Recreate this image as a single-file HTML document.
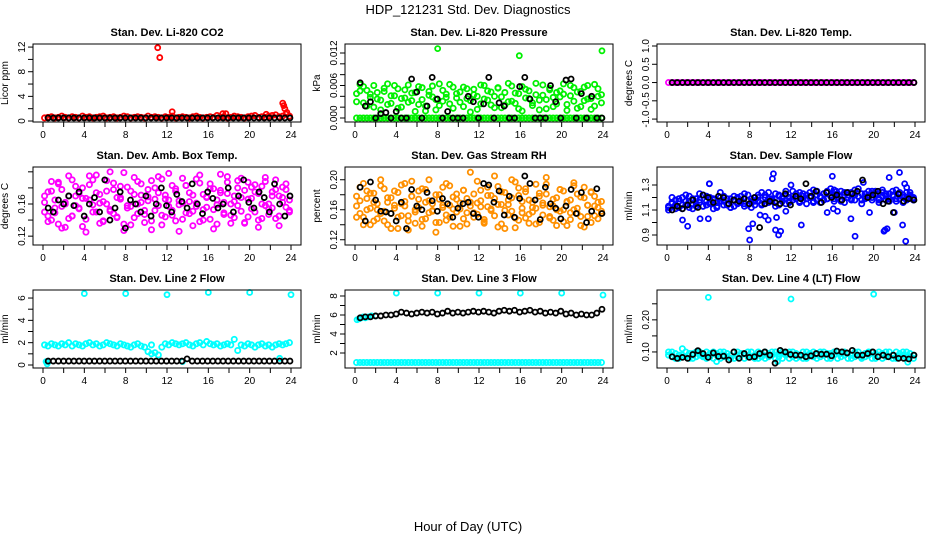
<!DOCTYPE html>
<html><head><meta charset="utf-8"><style>
html,body{margin:0;padding:0;background:#fff}
svg{display:block;font-family:"Liberation Sans",Arial,sans-serif}
</style></head><body>
<svg id="chart" width="936" height="540" viewBox="0 0 936 540" xmlns="http://www.w3.org/2000/svg">
<rect width="936" height="540" fill="#fff"/>
<text x="468" y="14" text-anchor="middle" font-size="13">HDP_121231  Std. Dev. Diagnostics</text>
<text x="468" y="531" text-anchor="middle" font-size="13">Hour of Day (UTC)</text>
</svg>
<script>
// ---- data ----
const co2Band=[0.5,0.6,0.7,0.5,0.6,0.8,0.6,0.5,0.7,0.6,0.5,0.8,0.6,0.7,0.5,0.6,0.7,0.8,0.5,0.6,0.7,0.5,0.6,0.8,0.7,0.5,0.6,0.7,0.6,0.5,0.8,0.6,0.7,0.6,0.5,0.7,0.6,0.8,0.5,0.6,0.7,0.6,0.5,0.7,0.8,0.6,0.5,0.6,0.7,0.6,0.9,0.6,0.7,0.5,0.6,0.8,0.7,0.6,0.5,0.7,0.8,0.9,0.6,0.7,0.6,0.8,0.9,1.0,0.7,0.8,1.1,0.8];
const co2OutX=[11.1,11.3,12.5,17.4,17.7,21.6,23.2,23.3,23.4,23.6];
const co2OutY=[11.9,10.3,1.5,1.2,1.2,1.1,2.9,2.5,2.0,1.4];
const co2Black=[0.5,0.5,0.5,0.5,0.5,0.5,0.5,0.5,0.5,0.5,0.5,0.5,0.5,0.5,0.5,0.5,0.5,0.5,0.5,0.5,0.5,0.5,0.5,0.5,0.5,0.5,0.5,0.5,0.5,0.5,0.5,0.5,0.5,0.5,0.5,0.5,0.5,0.5,0.5,0.5,0.5,0.5,0.5,0.5,0.5,0.5,0.5,0.5];

const presZero=[0,0,0,0,0,0,0,0,0,0,0,0,0,0,0,0,0,0,0,0,0,0,0,0,0,0,0,0,0,0,0,0,0,0,0,0,0,0,0,0,0,0,0,0,0,0,0,0,0,0,0,0,0,0,0,0,0,0,0,0,0,0,0,0,0,0,0,0,0,0,0,0];
const presA=[0.0045,0.0062,0.0028,0.0051,0.0038,0.0020,0.0047,0.0033,0.0055,0.0025,0.0041,0.0060,0.0018,0.0036,0.0052,0.0029,0.0046,0.0012,0.0058,0.0034,0.0022,0.0049,0.0039,0.0015,0.0063,0.0031,0.0044,0.0026,0.0057,0.0037,0.0048,0.0021,0.0054,0.0032,0.0043,0.0016,0.0061,0.0035,0.0050,0.0024,0.0040,0.0056,0.0019,0.0047,0.0030,0.0059,0.0027,0.0045,0.0013,0.0053,0.0036,0.0023,0.0064,0.0033,0.0042,0.0017,0.0055,0.0038,0.0026,0.0050,0.0044,0.0014,0.0060,0.0031,0.0048,0.0021,0.0057,0.0035,0.0016,0.0062,0.0040,0.0028];
const presB=[0.0030,0.0050,0.0058,0.0022,0.0044,0.0060,0.0035,0.0015,0.0049,0.0063,0.0027,0.0041,0.0054,0.0020,0.0037,0.0061,0.0032,0.0047,0.0025,0.0056,0.0013,0.0042,0.0059,0.0034,0.0023,0.0051,0.0038,0.0062,0.0018,0.0045,0.0029,0.0057,0.0036,0.0011,0.0053,0.0040,0.0026,0.0060,0.0033,0.0048,0.0019,0.0055,0.0039,0.0024,0.0064,0.0031,0.0046,0.0017,0.0058,0.0037,0.0050,0.0028,0.0043,0.0015,0.0061,0.0034,0.0052,0.0021,0.0047,0.0039,0.0063,0.0025,0.0041,0.0056,0.0018,0.0049,0.0032,0.0060,0.0036,0.0022,0.0054,0.0043];
const presOutX=[8.0,15.9,23.9];
const presOutY=[0.0128,0.0115,0.0124];
const presBlack=[0.0065,0.0022,0.0030,0,0.0008,0.0010,0,0.0012,0,0,0.0072,0.0048,0,0.0022,0.0075,0.0035,0,0.0012,0,0,0,0.0040,0.0030,0,0.0026,0.0075,0,0.0028,0.0022,0,0,0.0058,0.0075,0.0035,0,0,0,0.0060,0.0030,0,0.0070,0.0072,0,0.0045,0,0.0040,0,0];

const tempBand=[0,0,0,0,0,0,0,0,0,0,0,0,0,0,0,0,0,0,0,0,0,0,0,0,0,0,0,0,0,0,0,0,0,0,0,0,0,0,0,0,0,0,0,0,0,0,0,0,0,0,0,0,0,0,0,0,0,0,0,0,0,0,0,0,0,0,0,0,0,0,0,0];
const tempBlack=[0,0,0,0,0,0,0,0,0,0,0,0,0,0,0,0,0,0,0,0,0,0,0,0,0,0,0,0,0,0,0,0,0,0,0,0,0,0,0,0,0,0,0,0,0,0,0,0];

const ambA=[0.150,0.175,0.140,0.165,0.185,0.130,0.160,0.195,0.145,0.170,0.155,0.180,0.125,0.165,0.190,0.150,0.172,0.138,0.160,0.200,0.148,0.168,0.182,0.135,0.158,0.176,0.143,0.188,0.162,0.152,0.178,0.128,0.166,0.194,0.146,0.171,0.157,0.183,0.139,0.164,0.192,0.149,0.174,0.133,0.161,0.186,0.153,0.169,0.141,0.179,0.159,0.197,0.147,0.173,0.136,0.163,0.189,0.151,0.177,0.144,0.167,0.184,0.131,0.160,0.193,0.154,0.175,0.142,0.170,0.181,0.156,0.165];
const ambB=[0.170,0.145,0.188,0.155,0.135,0.178,0.162,0.142,0.190,0.158,0.173,0.132,0.167,0.184,0.150,0.196,0.161,0.139,0.176,0.153,0.186,0.144,0.168,0.127,0.181,0.157,0.193,0.148,0.171,0.137,0.164,0.189,0.152,0.174,0.134,0.166,0.198,0.146,0.179,0.159,0.141,0.183,0.163,0.151,0.191,0.138,0.172,0.156,0.185,0.129,0.165,0.177,0.149,0.194,0.160,0.143,0.180,0.168,0.136,0.187,0.154,0.175,0.140,0.182,0.158,0.147,0.170,0.190,0.133,0.162,0.178,0.150];
const ambC=[0.162,0.138,0.176,0.149,0.187,0.157,0.131,0.170,0.145,0.182,0.154,0.167,0.141,0.195,0.159,0.174,0.136,0.163,0.189,0.151,0.178,0.143,0.166,0.199,0.155,0.134,0.172,0.160,0.185,0.147,0.169,0.139,0.180,0.158,0.191,0.144,0.165,0.152,0.176,0.126,0.161,0.183,0.148,0.171,0.157,0.196,0.140,0.168,0.179,0.153,0.135,0.174,0.162,0.187,0.146,0.170,0.158,0.192,0.137,0.166,0.181,0.150,0.173,0.142,0.188,0.160,0.155,0.178,0.145,0.168,0.185,0.152];
const ambBlack=[0.155,0.150,0.165,0.160,0.170,0.158,0.175,0.145,0.160,0.168,0.150,0.190,0.140,0.155,0.175,0.130,0.165,0.160,0.150,0.170,0.145,0.160,0.180,0.158,0.150,0.172,0.163,0.155,0.185,0.160,0.148,0.175,0.167,0.155,0.160,0.180,0.150,0.170,0.190,0.162,0.155,0.175,0.168,0.150,0.185,0.160,0.145,0.170];

const rhA=[0.165,0.190,0.150,0.175,0.140,0.182,0.160,0.200,0.145,0.170,0.155,0.185,0.135,0.168,0.195,0.152,0.178,0.142,0.163,0.188,0.148,0.172,0.158,0.130,0.180,0.166,0.146,0.192,0.161,0.174,0.138,0.186,0.156,0.170,0.150,0.198,0.164,0.144,0.179,0.159,0.205,0.167,0.141,0.183,0.153,0.176,0.136,0.189,0.162,0.149,0.173,0.157,0.194,0.143,0.169,0.181,0.151,0.165,0.139,0.187,0.160,0.171,0.147,0.196,0.155,0.177,0.137,0.166,0.184,0.152,0.170,0.158];
const rhB=[0.150,0.172,0.195,0.160,0.182,0.145,0.168,0.155,0.188,0.140,0.176,0.162,0.150,0.193,0.165,0.133,0.178,0.157,0.185,0.147,0.170,0.200,0.159,0.143,0.174,0.190,0.153,0.166,0.138,0.181,0.161,0.148,0.175,0.210,0.156,0.169,0.186,0.142,0.164,0.179,0.152,0.191,0.167,0.135,0.173,0.158,0.197,0.146,0.171,0.184,0.154,0.163,0.141,0.178,0.166,0.203,0.149,0.174,0.160,0.187,0.144,0.170,0.156,0.192,0.162,0.139,0.176,0.151,0.183,0.165,0.148,0.171];
const rhC=[0.178,0.155,0.140,0.185,0.162,0.170,0.148,0.192,0.158,0.176,0.135,0.166,0.183,0.152,0.171,0.145,0.198,0.160,0.174,0.138,0.187,0.156,0.168,0.180,0.143,0.163,0.195,0.150,0.177,0.157,0.169,0.186,0.141,0.165,0.181,0.154,0.172,0.147,0.190,0.161,0.175,0.137,0.184,0.159,0.167,0.200,0.149,0.179,0.156,0.188,0.142,0.170,0.162,0.182,0.153,0.194,0.164,0.146,0.176,0.158,0.185,0.139,0.173,0.160,0.181,0.151,0.190,0.166,0.143,0.178,0.163,0.155];
const rhBlack=[0.190,0.145,0.197,0.173,0.158,0.157,0.155,0.145,0.170,0.135,0.187,0.165,0.160,0.183,0.172,0.158,0.175,0.168,0.150,0.162,0.168,0.170,0.155,0.150,0.195,0.193,0.170,0.185,0.153,0.178,0.150,0.175,0.205,0.195,0.173,0.147,0.190,0.168,0.162,0.148,0.165,0.187,0.155,0.183,0.143,0.158,0.188,0.155];

const flowA=[1.10,1.15,1.18,1.12,1.20,1.14,1.17,1.11,1.19,1.16,1.13,1.21,1.15,1.18,1.12,1.20,1.17,1.14,1.19,1.13,1.16,1.21,1.15,1.18,1.12,1.20,1.17,1.14,1.22,1.16,1.19,1.13,1.21,1.17,1.15,1.20,1.18,1.23,1.16,1.21,1.19,1.24,1.17,1.22,1.20,1.18,1.25,1.21,1.19,1.23,1.17,1.22,1.20,1.24,1.18,1.21,1.23,1.19,1.22,1.20,1.25,1.18,1.21,1.23,1.19,1.22,1.17,1.24,1.20,1.18,1.22,1.20];
const flowB=[1.13,1.20,1.11,1.17,1.14,1.22,1.12,1.19,1.15,1.23,1.13,1.17,1.20,1.11,1.16,1.24,1.14,1.19,1.12,1.21,1.15,1.18,1.13,1.22,1.16,1.14,1.20,1.24,1.15,1.19,1.17,1.23,1.14,1.20,1.22,1.16,1.25,1.19,1.17,1.23,1.15,1.21,1.26,1.18,1.16,1.23,1.19,1.27,1.17,1.20,1.25,1.16,1.24,1.18,1.22,1.27,1.15,1.20,1.25,1.18,1.23,1.16,1.26,1.21,1.17,1.25,1.19,1.22,1.16,1.24,1.21,1.19];
const flowC=[1.12,1.16,1.14,1.19,1.11,1.17,1.21,1.15,1.13,1.18,1.22,1.14,1.16,1.19,1.13,1.17,1.21,1.15,1.12,1.18,1.20,1.16,1.23,1.14,1.19,1.17,1.22,1.15,1.20,1.24,1.18,1.16,1.22,1.19,1.25,1.17,1.21,1.19,1.24,1.18,1.22,1.20,1.16,1.25,1.21,1.23,1.19,1.22,1.26,1.20,1.18,1.24,1.22,1.19,1.26,1.21,1.18,1.23,1.20,1.25,1.22,1.19,1.24,1.18,1.23,1.21,1.26,1.19,1.22,1.20,1.24,1.18];
const flowOutX=[1.5,2.0,3.2,4.0,4.1,7.9,8.0,8.3,9.0,9.5,9.8,10.2,10.3,10.5,10.6,10.8,11.0,11.5,13.0,15.5,16.0,16.5,16.1,17.8,18.2,19.0,19.6,21.0,21.1,21.3,21.5,22.0,22.5,22.8,23.0,23.2,23.1,4.1,12.0,16.4];
const flowOutY=[1.02,0.97,1.03,1.03,1.31,0.95,0.86,0.99,1.06,1.05,1.02,1.35,1.39,0.94,1.04,0.90,0.93,1.09,0.98,1.08,1.37,1.09,1.11,1.03,0.89,1.32,1.08,0.93,0.94,0.95,1.36,1.08,1.40,0.98,1.31,1.28,0.85,1.31,1.30,1.25];
const flowBlack=[1.10,1.13,1.11,1.14,1.18,1.12,1.22,1.20,1.16,1.21,1.20,1.15,1.18,1.17,1.19,1.15,1.20,0.96,1.15,1.17,1.16,1.15,1.23,1.14,1.21,1.19,1.31,1.21,1.25,1.16,1.24,1.20,1.22,1.18,1.24,1.23,1.25,1.34,1.20,1.22,1.25,1.15,1.17,1.08,1.23,1.17,1.19,1.18];

const l2Band=[1.8,1.7,1.9,1.8,1.7,1.9,1.8,2.0,1.7,1.9,1.8,1.7,1.9,2.0,1.8,1.9,1.7,1.8,2.0,1.9,1.8,1.7,1.9,1.8,1.7,1.6,1.8,1.9,1.7,1.6,1.2,1.8,1.1,0.9,1.6,1.9,1.8,2.0,1.9,1.8,1.9,2.0,1.8,1.7,1.9,2.0,1.8,2.1,1.9,1.8,1.9,1.7,1.8,1.9,1.8,2.3,1.3,1.8,1.7,1.9,1.8,1.6,1.8,1.9,1.7,1.8,1.6,1.8,1.9,1.8,1.9,2.0];
const l2OutX=[4,8,12,16,20,24,0.3,0.4,0.5,13.5,22.9,10.5];
const l2OutY=[6.4,6.4,6.3,6.5,6.5,6.3,0.3,0.1,0.3,0.3,0.6,1.0];
const l2Black=[0.35,0.35,0.35,0.35,0.35,0.35,0.35,0.35,0.35,0.35,0.35,0.35,0.35,0.35,0.35,0.35,0.35,0.35,0.35,0.35,0.35,0.35,0.35,0.35,0.35,0.35,0.35,0.55,0.35,0.35,0.35,0.35,0.35,0.35,0.35,0.35,0.35,0.35,0.35,0.35,0.35,0.35,0.35,0.35,0.35,0.35,0.35,0.35];

const l3Band=[1,1,1,1,1,1,1,1,1,1,1,1,1,1,1,1,1,1,1,1,1,1,1,1,1,1,1,1,1,1,1,1,1,1,1,1,1,1,1,1,1,1,1,1,1,1,1,1,1,1,1,1,1,1,1,1,1,1,1,1,1,1,1,1,1,1,1,1,1,1,1,1];
const l3OutX=[0.2,0.4,0.6,0.8,1.0,1.3,1.6,2.0,4,8,12,16,20,24];
const l3OutY=[5.5,5.6,5.7,5.8,5.7,5.8,5.9,5.9,8.3,8.3,8.3,8.3,8.3,8.1];
const l3Black=[5.7,5.8,5.8,5.9,5.9,6.0,6.0,6.1,6.3,6.2,6.1,6.2,6.3,6.2,6.3,6.1,6.2,6.4,6.2,6.3,6.2,6.3,6.4,6.3,6.4,6.3,6.2,6.4,6.5,6.4,6.5,6.3,6.4,6.5,6.3,6.4,6.2,6.3,6.2,6.4,6.1,6.2,6.0,6.1,6.0,6.0,6.2,6.6];

const l4A=[0.09,0.10,0.08,0.09,0.11,0.085,0.095,0.08,0.10,0.09,0.085,0.10,0.095,0.08,0.09,0.10,0.085,0.095,0.09,0.08,0.10,0.09,0.095,0.085,0.10,0.09,0.08,0.095,0.10,0.085,0.09,0.10,0.095,0.08,0.09,0.10,0.085,0.095,0.09,0.08,0.10,0.09,0.085,0.095,0.10,0.09,0.08,0.095,0.09,0.10,0.085,0.09,0.095,0.08,0.10,0.09,0.085,0.095,0.09,0.10,0.08,0.09,0.095,0.085,0.10,0.09,0.08,0.095,0.09,0.10,0.085,0.09];
const l4B=[0.10,0.085,0.095,0.08,0.09,0.10,0.08,0.095,0.085,0.10,0.09,0.08,0.085,0.10,0.095,0.08,0.10,0.085,0.08,0.10,0.085,0.095,0.08,0.10,0.085,0.08,0.10,0.085,0.08,0.095,0.10,0.08,0.085,0.10,0.095,0.08,0.10,0.08,0.085,0.10,0.08,0.095,0.10,0.08,0.085,0.10,0.095,0.08,0.10,0.08,0.095,0.10,0.08,0.09,0.085,0.10,0.08,0.085,0.10,0.08,0.095,0.10,0.08,0.10,0.085,0.08,0.10,0.085,0.10,0.08,0.095,0.08];
const l4OutX=[4.0,12.0,20.0,4.8,23.3,10.7];
const l4OutY=[0.27,0.265,0.28,0.07,0.068,0.07];
const l4Black=[0.085,0.08,0.083,0.08,0.092,0.104,0.095,0.083,0.097,0.086,0.087,0.075,0.10,0.08,0.095,0.083,0.085,0.095,0.10,0.09,0.065,0.105,0.10,0.092,0.09,0.09,0.085,0.088,0.095,0.093,0.093,0.088,0.103,0.10,0.097,0.105,0.09,0.09,0.095,0.10,0.085,0.09,0.085,0.09,0.08,0.08,0.078,0.09];

const xTicks=[0,2,4,6,8,10,12,14,16,18,20,22,24];
const xLabels=[0,4,8,12,16,20,24];

// ---- panels ----
const NS='http://www.w3.org/2000/svg';
const svg=document.getElementById('chart');
function mk(tag,attrs,parent){const e=document.createElementNS(NS,tag);for(const k in attrs)e.setAttribute(k,attrs[k]);(parent||svg).appendChild(e);return e;}

const panels=[
 {key:'co2',title:'Stan. Dev. Li-820 CO2',ylab:'Licor ppm',col:0,row:0,lo:-0.16,hi:12.5,ticks:[0,2,4,6,8,10,12],labels:[0,4,8,12],fmt:v=>String(v),color:'#ff0000',bands:[co2Band],ox:co2OutX,oy:co2OutY,black:co2Black},
 {key:'pressure',title:'Stan. Dev. Li-820 Pressure',ylab:'kPa',col:1,row:0,lo:-0.00074,hi:0.01366,ticks:[0,0.002,0.004,0.006,0.008,0.010,0.012],labels:[0,0.006,0.012],fmt:v=>v.toFixed(3),color:'#00f000',bands:[presZero,presA,presB],ox:presOutX,oy:presOutY,black:presBlack},
 {key:'temp',title:'Stan. Dev. Li-820 Temp.',ylab:'degrees C',col:2,row:0,lo:-1.08,hi:1.055,ticks:[-1,-0.5,0,0.5,1],labels:[-1,-0.5,0,0.5,1],fmt:v=>v.toFixed(1),color:'#ff00ff',bands:[tempBand],ox:[],oy:[],black:tempBlack},
 {key:'ambtemp',title:'Stan. Dev. Amb. Box Temp.',ylab:'degrees C',col:0,row:1,lo:0.109,hi:0.206,ticks:[0.12,0.14,0.16,0.18,0.20],labels:[0.12,0.16],fmt:v=>v.toFixed(2),color:'#ff00ff',bands:[ambA,ambB,ambC],ox:[],oy:[],black:ambBlack},
 {key:'rh',title:'Stan. Dev. Gas Stream RH',ylab:'percent',col:1,row:1,lo:0.113,hi:0.217,ticks:[0.12,0.14,0.16,0.18,0.20],labels:[0.12,0.16,0.20],fmt:v=>v.toFixed(2),color:'#ff9000',bands:[rhA,rhB,rhC],ox:[],oy:[],black:rhBlack},
 {key:'sampleflow',title:'Stan. Dev. Sample Flow',ylab:'ml/min',col:2,row:1,lo:0.82,hi:1.444,ticks:[0.9,1.0,1.1,1.2,1.3],labels:[0.9,1.1,1.3],fmt:v=>v.toFixed(1),color:'#0000ff',bands:[flowA,flowB,flowC],ox:flowOutX,oy:flowOutY,black:flowBlack},
 {key:'line2',title:'Stan. Dev. Line 2 Flow',ylab:'ml/min',col:0,row:2,lo:-0.27,hi:6.72,ticks:[0,1,2,3,4,5,6],labels:[0,2,4,6],fmt:v=>String(v),color:'#00ffff',bands:[l2Band],ox:l2OutX,oy:l2OutY,black:l2Black},
 {key:'line3',title:'Stan. Dev. Line 3 Flow',ylab:'ml/min',col:1,row:2,lo:0.42,hi:8.63,ticks:[2,3,4,5,6,7,8],labels:[2,4,6,8],fmt:v=>String(v),color:'#00ffff',bands:[l3Band],ox:l3OutX,oy:l3OutY,black:l3Black},
 {key:'line4',title:'Stan. Dev. Line 4 (LT) Flow',ylab:'ml/min',col:2,row:2,lo:0.05,hi:0.293,ticks:[0.10,0.15,0.20,0.25],labels:[0.10,0.20],fmt:v=>v.toFixed(2),color:'#00ffff',bands:[l4A,l4B],ox:l4OutX,oy:l4OutY,black:l4Black}
];

panels.forEach(p=>{
  const left=33+312*p.col, right=left+268, top=44+123*p.row, bottom=top+78;
  const x0=left+10, xs=248/24;
  const X=v=>x0+v*xs;
  const Y=v=>bottom-(v-p.lo)/(p.hi-p.lo)*(bottom-top);
  const g=mk('g',{});
  
  
  const t=mk('text',{x:(left+right)/2,y:top-8,'text-anchor':'middle','font-size':'11','font-weight':'bold'},g);
  
  
  t.textContent=p.title;
  const yl=mk('text',{x:0,y:0,'text-anchor':'middle','font-size':'10',transform:`translate(${left-25},${(top+bottom)/2}) rotate(-90)`},g);
  
  
  yl.textContent=p.ylab;
  const pts=mk('g',{fill:'none','stroke-width':'1.8'},g);
  
  
  p.bands.forEach(arr=>{
    const n=arr.length;
    arr.forEach((v,i)=>{
      const c=mk('circle',{cx:X(0.15+i*23.7/(n-1)),cy:Y(v),r:2.6,stroke:p.color},pts);
      
      
    });
  });
  p.ox.forEach((xv,i)=>{
    const c=mk('circle',{cx:X(xv),cy:Y(p.oy[i]),r:2.5,stroke:p.color},pts);
    
    
  });
  const nb=p.black.length;
  p.black.forEach((v,i)=>{
    const c=mk('circle',{cx:X(0.5+i*23.4/(nb-1)),cy:Y(v),r:2.5,stroke:'#000'},pts);
    
    
  });
  const box=mk('rect',{x:left,y:top,width:right-left,height:bottom-top,fill:'none',stroke:'#000','stroke-width':'1'},g);
  
  
  const xa=mk('g',{stroke:'#000','stroke-width':'1'},g);
  
  
  mk('line',{x1:X(0),x2:X(24),y1:bottom,y2:bottom},xa);
  xTicks.forEach(v=>mk('line',{x1:X(v),x2:X(v),y1:bottom,y2:bottom+5},xa));
  xLabels.forEach(v=>{
    const tl=mk('text',{x:X(v),y:bottom+16,'text-anchor':'middle','font-size':'10',stroke:'none',fill:'#000'},xa);
    
    
    tl.textContent=v;
  });
  const ya=mk('g',{stroke:'#000','stroke-width':'1'},g);
  
  
  mk('line',{x1:left,x2:left,y1:Y(p.ticks[0]),y2:Y(p.ticks[p.ticks.length-1])},ya);
  p.ticks.forEach(v=>mk('line',{x1:left-5,x2:left,y1:Y(v),y2:Y(v)},ya));
  p.labels.forEach(v=>{
    const tl=mk('text',{x:0,y:0,'text-anchor':'middle','font-size':'10',stroke:'none',fill:'#000',transform:`translate(${left-8},${Y(v)}) rotate(-90)`},ya);
    
    
    tl.textContent=p.fmt(v);
  });
});
</script>
</body></html>
